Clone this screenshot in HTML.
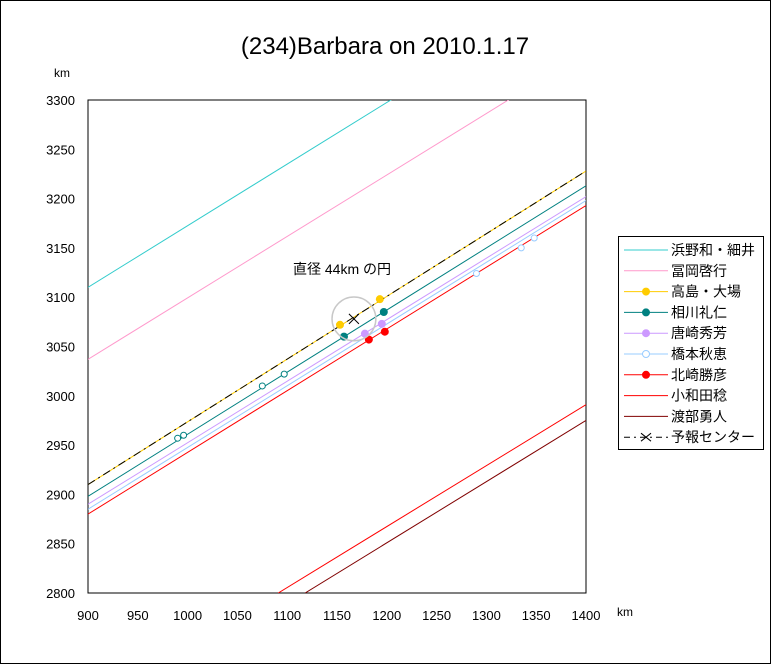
<!DOCTYPE html>
<html><head><meta charset="utf-8"><style>
body{margin:0;background:#fff}
svg text{font-family:"Liberation Sans","Noto Sans CJK JP",sans-serif}
</style></head><body>
<svg id="c" width="771" height="664" xmlns="http://www.w3.org/2000/svg">
<rect x="0.5" y="0.5" width="770" height="663" fill="#fff" stroke="#000"/>
<text x="385" y="54" font-size="24" text-anchor="middle">(234)Barbara on 2010.1.17</text>
<text x="62" y="77" font-size="12" text-anchor="middle">km</text>
<text x="625" y="616" font-size="12" text-anchor="middle">km</text>
<defs><clipPath id="pc"><rect x="88" y="100" width="498" height="493"/></clipPath></defs>
<rect x="88" y="100" width="498" height="493" fill="#fff" stroke="#000"/>
<g id="ticks"></g>
<g id="marks" clip-path="url(#pc)"></g>
<g id="pts"></g>
<text x="342" y="274" font-size="14" text-anchor="middle">直径 44km の円</text>
<g id="legend"></g>
</svg>
<script>
const xTicks=[900,950,1000,1050,1100,1150,1200,1250,1300,1350,1400];
const yTicks=[2800,2850,2900,2950,3000,3050,3100,3150,3200,3250,3300];
const seriesNames=["浜野和・細井","冨岡啓行","高島・大場","相川礼仁","唐崎秀芳","橋本秋恵","北崎勝彦","小和田稔","渡部勇人","予報センター"];
const seriesColors=["#33cccc","#ff99cc","#ffcc00","#008080","#cc99ff","#99ccff","#ff0000","#ff0000","#800000","#000000"];
const lineX1=[900,900,900,900,900,900,900,1091,1118,900];
const lineY1=[3110,3037,2910,2898,2890,2885,2880,2800,2800,2910];
const lineX2=[1212,1330,1400,1400,1400,1400,1400,1400,1400,1400];
const lineY2=[3305,3305,3228,3213,3202,3198,3193,2991,2975,3228];
const solidPtsX=[[],[],[1153,1193],[1157,1197],[1178,1195],[],[1182,1198],[],[],[]];
const solidPtsY=[[],[],[3072,3098],[3060,3085],[3063,3073],[],[3057,3065],[],[],[]];
const hollowPtsX=[[],[],[],[990,996,1075,1097],[],[1290,1335,1348],[],[],[],[]];
const hollowPtsY=[[],[],[],[2957,2960,3010,3022],[],[3124,3150,3160],[],[],[],[]];
const centerX=[1167], centerY=[3078], circleDiam=[44];
const X=v=>88+(v-900)*498/500, Y=v=>100+(3300-v)*493/500;
const NS="http://www.w3.org/2000/svg";
function mk(t,a,p){const e=document.createElementNS(NS,t);for(const k in a)e.setAttribute(k,a[k]);p.appendChild(e);return e;}
const tk=document.getElementById('ticks'),mg=document.getElementById('marks'),pg=document.getElementById('pts'),lg=document.getElementById('legend');
xTicks.forEach(v=>{const t=mk('text',{x:X(v),y:620,'font-size':13,'text-anchor':'middle'},tk);t.textContent=v;

});
yTicks.forEach(v=>{const t=mk('text',{x:75,y:Y(v)+5,'font-size':13,'text-anchor':'end'},tk);t.textContent=v;

});
for(let i=0;i<seriesNames.length;i++){
 const a={x1:X(lineX1[i]),y1:Y(lineY1[i]),x2:X(lineX2[i]),y2:Y(lineY2[i]),stroke:seriesColors[i],'stroke-width':1};
 if(i==9){a['stroke-dasharray']='8,4,2,4';}
 const l=mk('line',a,mg);
 
 
 solidPtsX[i].forEach((x,j)=>{const c=mk('circle',{cx:X(x),cy:Y(solidPtsY[i][j]),r:4,fill:seriesColors[i]},pg);
 
 });
 hollowPtsX[i].forEach((x,j)=>{const c=mk('circle',{cx:X(x),cy:Y(hollowPtsY[i][j]),r:3,fill:'#fff',stroke:seriesColors[i]},pg);
 
 });
}
const cx=X(centerX[0]),cy=Y(centerY[0]),r=circleDiam[0]/2*498/500;
const ci=mk('circle',{cx:cx,cy:cy,r:r,fill:'none',stroke:'#c8c8c8','stroke-width':1.5},pg);


const cr=mk('path',{d:`M${cx-5},${cy-5}L${cx+5},${cy+5}M${cx-5},${cy+5}L${cx+5},${cy-5}`,stroke:'#000'},pg);


const box=mk('rect',{x:618.5,y:236.5,width:145,height:213,fill:'#fff',stroke:'#000'},lg);


seriesNames.forEach((n,i)=>{const y=250+i*20.8;
 const g=mk('g',{},lg);
 
 
 const a={x1:624,y1:y,x2:668,y2:y,stroke:seriesColors[i]};if(i==9)a['stroke-dasharray']='6,4,2,4';
 mk('line',a,g);
 if(i>=2&&i<=6)mk('circle',{cx:646,cy:y,r:3.5,fill:i==5?'#fff':seriesColors[i],stroke:seriesColors[i]},g);
 if(i==9)mk('path',{d:`M641,${y-4}L651,${y+4}M641,${y+4}L651,${y-4}`,stroke:'#000'},g);
 const t=mk('text',{x:671,y:y+5,'font-size':14},g);t.textContent=n;});
</script>
</body></html>
